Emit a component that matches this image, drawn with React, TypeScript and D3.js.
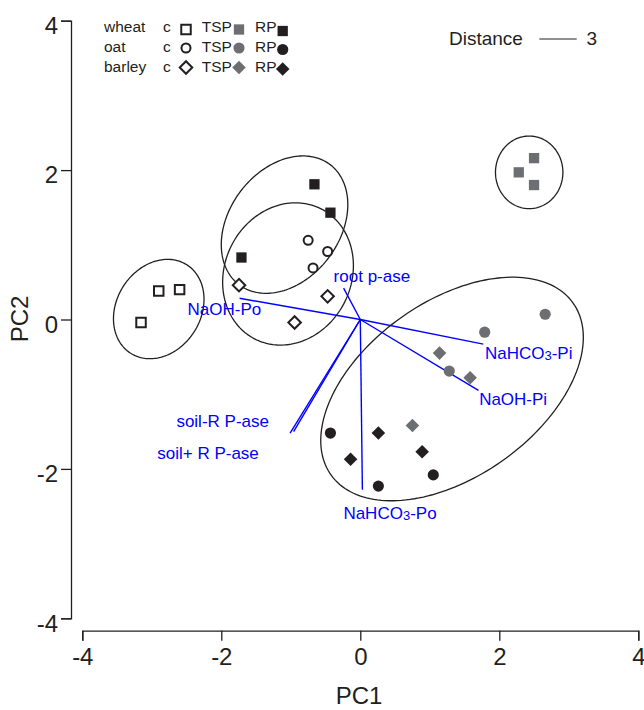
import React, { useEffect, useRef } from 'react';
import * as d3 from 'd3';

const W = 644;
const H = 710;

// ---- sample scores (PC1, PC2) ----
const wheatC = [[-3.155, -0.04], [-2.9, 0.38], [-2.6, 0.4]];
const wheatTSP = [[2.28, 1.97], [2.5, 2.16], [2.5, 1.8]];
const wheatRP = [[-0.66, 1.81], [-0.43, 1.43], [-1.71, 0.83]];
const oatC = [[-0.75, 1.06], [-0.47, 0.91], [-0.68, 0.69]];
const oatTSP = [[2.66, 0.07], [1.79, -0.17], [1.28, -0.69]];
const oatRP = [[-0.43, -1.52], [0.26, -2.23], [1.05, -2.08]];
const barleyC = [[-1.745, 0.46], [-0.47, 0.31], [-0.945, -0.04]];
const barleyTSP = [[1.14, -0.45], [1.58, -0.78], [0.75, -1.42]];
const barleyRP = [[0.26, -1.52], [-0.14, -1.87], [0.89, -1.77]];

const crops = ['wheat', 'oat', 'barley'];
const treatments = ['c', 'TSP', 'RP'];

// ---- loading vectors ----
const vectorNames = ['root p-ase', 'NaOH-Po', 'soil-R P-ase', 'soil+ R P-ase', 'NaHCO3-Po', 'NaHCO3-Pi', 'NaOH-Pi'];
const vectorX = [-0.24, -1.737, -0.96, -1.01, 0.03, 1.77, 1.7];
const vectorY = [0.42, 0.284, -1.5, -1.52, -2.28, -0.33, -0.95];

// ---- group ellipses (centre, semi-axes, angle in degrees) ----
const ellipseCX = [-2.9, -1.09, -1.04, 1.32, 2.43];
const ellipseCY = [0.14, 1.27, 0.61, -0.93, 1.97];
const ellipseA = [0.72, 1.04, 1.0, 2.09, 0.486];
const ellipseB = [0.59, 0.77, 0.89, 1.2, 0.485];
const ellipseAngle = [48, 46, 48, 31.5, 90];

const xTicks = [-4, -2, 0, 2, 4];
const yTicks = [-4, -2, 0, 2, 4];

const BLACK = '#231f20';
const GRAY = '#6d6e71';
const BLUE = '#0000ff';
const FONT = '"Liberation Sans", Arial, sans-serif';

// label placement (pixel offsets from vector tips)
const labelDX = [-10, -52, -24.6, -31.3, -19, 1.6, 0.7];
const labelDY = [-6, 17, -4.6, 26, 29, 14.4, 14.6];
const labelAnchor = ['start', 'start', 'end', 'end', 'start', 'start', 'start'];

export default function App() {
  const ref = useRef<SVGSVGElement | null>(null);

  useEffect(() => {
    const svg = d3.select(ref.current);
    svg.selectAll('*').remove();

    const x = d3.scaleLinear().domain([-4, 4]).range([82.3, 638.3]);
    const y = d3.scaleLinear().domain([-4, 4]).range([618.3, 20.7]);

    // axes
    const ya = svg.append('g').attr('transform', 'translate(71,0)')
      .call(d3.axisLeft(y).tickValues(yTicks).tickSize(10).tickSizeOuter(10).tickPadding(3));
    ya.selectAll('text').attr('font-size', 24).attr('font-family', FONT).attr('fill', BLACK).attr('dy', '0.53em');
    const xa = svg.append('g').attr('transform', 'translate(0,630.7)')
      .call(d3.axisBottom(x).tickValues(xTicks).tickSize(10).tickSizeOuter(10).tickPadding(7));
    xa.selectAll('text').attr('font-size', 24).attr('font-family', FONT).attr('fill', BLACK);
    svg.selectAll('.domain, .tick line').attr('stroke', BLACK).attr('stroke-width', 1.3);
    svg.selectAll('.tick text').text((d: any) => String(d));

    svg.append('text').attr('x', 359).attr('y', 704).attr('text-anchor', 'middle')
      .attr('font-size', 24).attr('font-family', FONT).attr('fill', BLACK).text('PC1');
    svg.append('text').attr('transform', 'translate(28,319) rotate(-90)').attr('text-anchor', 'middle')
      .attr('font-size', 24).attr('font-family', FONT).attr('fill', BLACK).text('PC2');

    // ellipses
    const line = d3.line<[number, number]>().x((d) => x(d[0])).y((d) => y(d[1])).curve(d3.curveLinearClosed);
    const ts = d3.range(0, 2 * Math.PI, Math.PI / 90);
    ellipseCX.forEach((cx, i) => {
      const phi = (ellipseAngle[i] * Math.PI) / 180;
      const a = ellipseA[i];
      const b = ellipseB[i];
      const pts: [number, number][] = ts.map((t) => [
        cx + a * Math.cos(t) * Math.cos(phi) - b * Math.sin(t) * Math.sin(phi),
        ellipseCY[i] + a * Math.cos(t) * Math.sin(phi) + b * Math.sin(t) * Math.cos(phi),
      ]);
      svg.append('path').attr('d', line(pts)).attr('fill', 'none').attr('stroke', BLACK).attr('stroke-width', 1.3);
    });

    // vectors
    vectorNames.forEach((name, i) => {
      const x1 = x(vectorX[i]);
      const y1 = y(vectorY[i]);
      svg.append('line').attr('x1', x(0)).attr('y1', y(0)).attr('x2', x1).attr('y2', y1)
        .attr('stroke', BLUE).attr('stroke-width', 1.4);
      const t = svg.append('text').attr('x', x1 + labelDX[i]).attr('y', y1 + labelDY[i])
        .attr('text-anchor', labelAnchor[i]).attr('font-size', 17).attr('font-family', FONT).attr('fill', BLUE);
      const m = name.match(/^(.*HCO)3(.*)$/);
      if (m) {
        t.append('tspan').text(m[1]);
        t.append('tspan').attr('font-size', 13).attr('dy', 1.5).text('3');
        t.append('tspan').attr('dy', -1.5).text(m[2]);
      } else {
        t.text(name);
      }
    });

    // points
    const series = [
      { crop: 'wheat', treat: 'c', pts: wheatC },
      { crop: 'wheat', treat: 'TSP', pts: wheatTSP },
      { crop: 'wheat', treat: 'RP', pts: wheatRP },
      { crop: 'oat', treat: 'c', pts: oatC },
      { crop: 'oat', treat: 'TSP', pts: oatTSP },
      { crop: 'oat', treat: 'RP', pts: oatRP },
      { crop: 'barley', treat: 'c', pts: barleyC },
      { crop: 'barley', treat: 'TSP', pts: barleyTSP },
      { crop: 'barley', treat: 'RP', pts: barleyRP },
    ];

    const drawMarker = (g: any, crop: string, treat: string, px: number, py: number) => {
      const open = treat === 'c';
      let type: any = d3.symbolSquare;
      let size = open ? 90 : 106;
      let rot = 0;
      if (crop === 'oat') {
        type = d3.symbolCircle;
        size = open ? 64 : 98;
      } else if (crop === 'barley') {
        size = open ? 78 : 92;
        rot = 45;
      }
      g.append('path')
        .attr('d', d3.symbol().type(type).size(size)())
        .attr('transform', `translate(${px},${py}) rotate(${rot})`)
        .attr('fill', open ? '#fff' : treat === 'TSP' ? GRAY : BLACK)
        .attr('stroke', open ? BLACK : 'none')
        .attr('stroke-width', open ? 2 : 0);
    };

    const gp = svg.append('g');
    series.forEach((s) => s.pts.forEach((p) => drawMarker(gp, s.crop, s.treat, x(p[0]), y(p[1]))));

    // legend
    const lg = svg.append('g').attr('font-family', FONT).attr('font-size', 15.5).attr('fill', BLACK);
    const rowBase = [32, 51.5, 71.5];
    const symY = [29.5, 48, 67.5];
    const colText = [163, 201.7, 255];
    const colSym = [186, 239, 282.7];
    crops.forEach((c, r) => {
      lg.append('text').attr('x', 104).attr('y', rowBase[r]).text(c);
      treatments.forEach((tr, k) => {
        lg.append('text').attr('x', colText[k]).attr('y', rowBase[r]).text(tr);
        drawMarker(lg, c, tr, colSym[k], symY[r] + (k === 2 ? 1.5 : 0));
      });
    });

    // distance scale
    svg.append('text').attr('x', 449).attr('y', 44.5).attr('font-size', 19).attr('font-family', FONT)
      .attr('fill', BLACK).text('Distance');
    svg.append('line').attr('x1', 539.3).attr('x2', 576.7).attr('y1', 39).attr('y2', 39)
      .attr('stroke', BLACK).attr('stroke-width', 1.2);
    svg.append('text').attr('x', 586.5).attr('y', 44.5).attr('font-size', 19).attr('font-family', FONT)
      .attr('fill', BLACK).text('3');
  }, []);

  return (
    <svg
      ref={ref}
      width={W}
      height={H}
      style={{ position: 'absolute', left: 0, top: 0, background: '#fff' }}
    />
  );
}
